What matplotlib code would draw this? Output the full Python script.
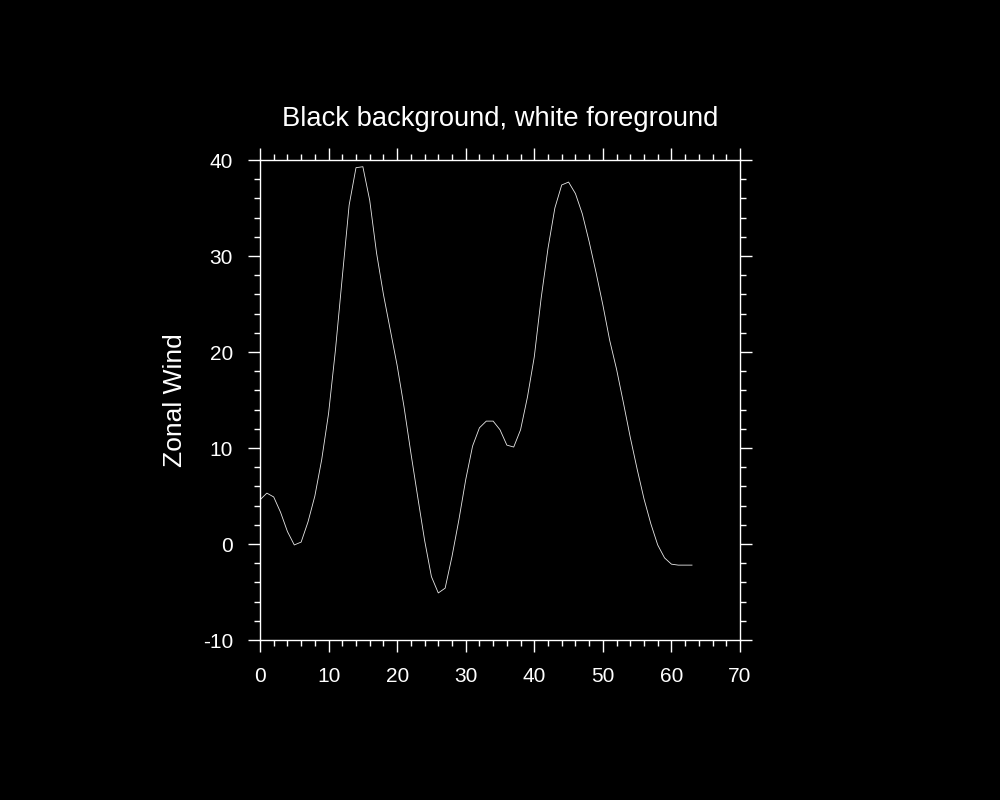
"""Zonal wind line plot, black background with white foreground."""

import matplotlib
matplotlib.use("Agg")
import matplotlib.pyplot as plt
from matplotlib.ticker import MultipleLocator

plt.rcParams["font.family"] = ["Liberation Sans", "DejaVu Sans"]
plt.rcParams["axes.unicode_minus"] = False

# Values, one per x step
x_vals = list(range(64))
zonal_wind = [
    4.6, 5.3, 4.9, 3.3, 1.3, -0.1, 0.2, 2.3, 5.0, 8.8,
    13.6, 20.2, 27.8, 35.3, 39.2, 39.3, 35.8, 30.3, 26.0, 22.3,
    18.6, 14.3, 9.5, 4.9, 0.4, -3.4, -5.1, -4.6, -1.3, 2.5,
    6.7, 10.2, 12.1, 12.8, 12.8, 11.9, 10.3, 10.1, 11.9, 15.3,
    19.5, 25.6, 30.8, 35.0, 37.4, 37.7, 36.5, 34.4, 31.5, 28.3,
    24.9, 21.2, 18.2, 14.7, 11.1, 7.8, 4.7, 2.1, -0.1, -1.45,
    -2.1, -2.2, -2.2, -2.2,
]

title = "Black background, white foreground"
y_label = "Zonal Wind"

fig = plt.figure(figsize=(10, 8), dpi=100, facecolor="black")
ax = fig.add_axes([0.26, 0.2, 0.48, 0.6], facecolor="black")

ax.plot(x_vals, zonal_wind, color="#e8e8e8", linewidth=0.6)

ax.set_xlim(0, 70)
ax.set_ylim(-10, 40)
ax.xaxis.set_major_locator(MultipleLocator(10))
ax.xaxis.set_minor_locator(MultipleLocator(2))
ax.yaxis.set_major_locator(MultipleLocator(10))
ax.yaxis.set_minor_locator(MultipleLocator(2))

for side in ax.spines.values():
    side.set_color("white")
    side.set_linewidth(1.0)

ax.tick_params(which="both", direction="out", top=True, right=True,
               colors="white", width=1.0)
ax.tick_params(which="major", length=8.5, pad=11, labelsize=15,
               labelcolor="white")
ax.tick_params(which="minor", length=4.3)

ax.set_ylabel(y_label, fontsize=19, color="white")
ax.yaxis.set_label_coords(-0.152, 0.5)

fig.text(0.5, 1 - 126 / 800, title, ha="center", va="baseline",
         fontsize=19.7, color="white")

fig.savefig("out.png", dpi=100, facecolor="black")
